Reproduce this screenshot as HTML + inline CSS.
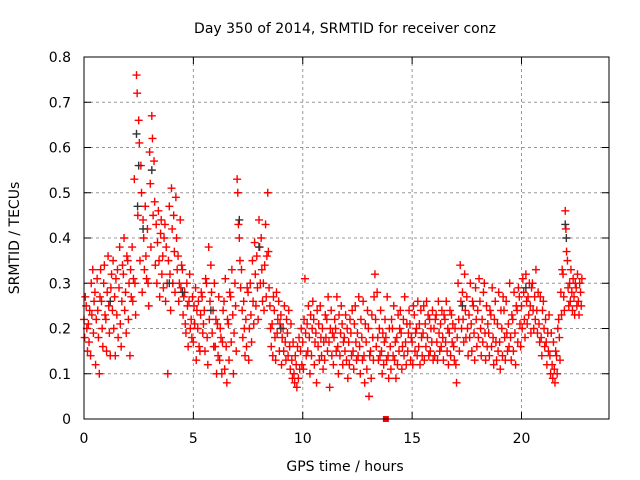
<!DOCTYPE html>
<html><head><meta charset="utf-8"><style>
body{margin:0;background:#fff;}
svg{display:block;font-family:"DejaVu Sans","Liberation Sans",sans-serif;}
</style></head><body>
<svg id="chart" width="640" height="480" viewBox="0 0 640 480">
<rect x="0" y="0" width="640" height="480" fill="#fff"/>
<text x="345" y="33" font-size="14" text-anchor="middle">Day 350 of 2014, SRMTID for receiver conz</text>
<text transform="translate(19,238) rotate(-90)" font-size="14" text-anchor="middle">SRMTID / TECUs</text>
<text x="345" y="471" font-size="14" text-anchor="middle">GPS time / hours</text>
<g id="grid"></g>
<g id="ticks"></g>
<g id="marks"></g>
<rect x="84" y="57" width="525" height="362" fill="none" stroke="#000" stroke-width="1"/>
</svg>
<script>
const xTicks=[0,5,10,15,20];
const yTicks=[0,0.1,0.2,0.3,0.4,0.5,0.6,0.7,0.8];
const yTickLabels=["0","0.1","0.2","0.3","0.4","0.5","0.6","0.7","0.8"];
const redHours=[0.0,0.1,0.2,0.3,0.4,0.5,0.6,0.7,0.8,0.9,1.0,1.1,1.2,1.3,1.4,1.5,1.6,1.7,1.8,1.9,2.0,2.1,2.2,2.3,2.4,2.5,2.6,2.7,2.8,2.9,3.0,3.1,3.2,3.3,3.4,3.5,3.6,3.7,3.8,3.9,4.0,4.1,4.2,4.3,4.4,4.5,4.6,4.7,4.8,4.9,5.0,5.1,5.2,5.3,5.4,5.5,5.6,5.7,5.8,5.9,6.0,6.1,6.2,6.3,6.4,6.5,6.6,6.7,6.8,6.9,7.0,7.1,7.2,7.3,7.4,7.5,7.6,7.7,7.8,7.9,8.0,8.1,8.2,8.3,8.4,8.5,8.6,8.7,8.8,8.9,9.0,9.1,9.2,9.3,9.4,9.5,9.6,9.7,9.8,9.9,10.0,10.1,10.2,10.3,10.4,10.5,10.6,10.7,10.8,10.9,11.0,11.1,11.2,11.3,11.4,11.5,11.6,11.7,11.8,11.9,12.0,12.1,12.2,12.3,12.4,12.5,12.6,12.7,12.8,12.9,13.0,13.1,13.2,13.3,13.4,13.5,13.6,13.7,13.8,13.9,14.0,14.1,14.2,14.3,14.4,14.5,14.6,14.7,14.8,14.9,15.0,15.1,15.2,15.3,15.4,15.5,15.6,15.7,15.8,15.9,16.0,16.1,16.2,16.3,16.4,16.5,16.6,16.7,16.8,16.9,17.0,17.1,17.2,17.3,17.4,17.5,17.6,17.7,17.8,17.9,18.0,18.1,18.2,18.3,18.4,18.5,18.6,18.7,18.8,18.9,19.0,19.1,19.2,19.3,19.4,19.5,19.6,19.7,19.8,19.9,20.0,20.1,20.2,20.3,20.4,20.5,20.6,20.7,20.8,20.9,21.0,21.1,21.2,21.3,21.4,21.5,21.6,21.7,21.8,21.9,22.0,22.1,22.2,22.3,22.4,22.5,22.6,22.7];
const redValues=[[22,18,27],[25,20,15],[21,17,24],[14,30,23],[33,19,26],[28,12,22],[31,24,18],[10,27,33],[26,20,16],[30,34,23],[22,15,28],[36,25,19],[14,29,32],[24,35,20],[27,14,31],[23,33,18],[29,38,21],[16,26,34],[32,40,24],[28,19,36],[35,22,30],[14,33,27],[38,26,31],[53,30,23],[76,72,45],[66,61,35],[56,50,28],[44,40,33],[47,36,31],[42,30,25],[59,52,38],[67,62,45],[57,48,34],[43,30,39],[46,35,27],[41,44,32],[36,29,40],[43,26,38],[30,10,35],[47,32,24],[51,42,30],[45,37,28],[49,40,33],[36,26,30],[44,29,34],[33,23,27],[28,21,19],[30,25,16],[26,32,20],[22,18,27],[17,25,21],[29,13,24],[20,26,16],[15,23,28],[27,19,21],[24,15,31],[30,18,12],[38,22,26],[34,28,19],[24,16,30],[16,22,10],[21,14,27],[13,20,18],[10,17,24],[26,11,31],[16,8,22],[21,13,28],[27,17,33],[23,10,19],[30,25,15],[53,50,43],[40,35,29],[33,24,18],[26,20,14],[22,16,29],[28,13,20],[30,23,17],[35,26,21],[39,32,25],[36,29,22],[44,38,30],[40,33,26],[30,24,34],[43,27,36],[50,37,29],[25,20,16],[21,14,27],[24,18,13],[28,19,22],[26,15,21],[23,12,18],[20,15,25],[17,13,22],[19,14,24],[16,11,21],[13,9,17],[10,8,14],[12,7,16],[9,18,11],[15,20,12],[17,11,22],[31,19,14],[21,15,25],[18,10,23],[14,20,26],[22,12,17],[19,8,24],[16,21,13],[25,18,14],[20,11,17],[13,23,18],[22,15,27],[17,7,20],[24,14,19],[12,18,22],[20,15,27],[16,10,23],[14,19,25],[21,12,17],[18,15,23],[13,20,9],[17,12,22],[19,14,24],[15,11,21],[25,17,13],[19,14,27],[16,10,22],[18,13,26],[14,8,21],[17,11,24],[20,5,14],[15,9,23],[18,13,27],[32,22,16],[28,18,13],[20,14,24],[15,10,19],[12,17,22],[18,13,27],[14,9,20],[16,11,22],[20,14,25],[13,17,9],[18,12,23],[15,20,24],[19,11,16],[22,14,27],[17,12,21],[15,19,24],[21,13,18],[17,12,25],[23,15,19],[20,14,26],[16,21,12],[24,18,14],[19,25,13],[21,16,26],[18,23,14],[22,15,20],[17,24,13],[20,14,22],[23,17,13],[26,19,15],[21,16,24],[18,13,23],[22,17,26],[15,20,12],[19,24,14],[23,17,21],[16,13,20],[12,8,18],[30,22,15],[34,26,20],[28,22,17],[32,24,18],[27,20,14],[23,18,30],[21,15,26],[25,19,13],[29,22,16],[24,18,31],[26,20,14],[22,17,28],[30,19,13],[25,16,21],[19,14,24],[23,16,29],[18,12,22],[26,17,13],[21,15,28],[17,11,24],[20,14,27],[24,18,13],[26,19,15],[21,16,30],[18,13,23],[22,15,28],[19,12,25],[24,17,29],[27,21,16],[25,20,31],[28,22,18],[32,26,21],[27,23,30],[25,19,29],[30,24,20],[27,22,33],[24,19,28],[21,17,27],[18,14,24],[26,20,16],[22,17,12],[19,15,23],[14,10,19],[12,9,17],[11,8,15],[14,10,20],[22,18,13],[28,23,33],[32,27,24],[46,42,37],[35,29,25],[30,26,33],[28,24,31],[27,23,30],[29,25,32],[26,23,30],[28,25,31]];
const blackHours=[2.4,2.45,2.5,2.7,3.1,3.9,4.5,5.8,7.1,8.0,9.0,22.0,22.05,1.2,17.3,20.2];
const blackValues=[0.63,0.47,0.56,0.42,0.55,0.30,0.28,0.24,0.44,0.38,0.20,0.43,0.40,0.26,0.25,0.29];
const outlierHours=[13.8];
const outlierValues=[0];

const X0=84,X1=609,Y0=419,Y1=57,XMAX=24,YMAX=0.8;
function xs(h){return X0+(X1-X0)*h/XMAX;}
function ys(v){return Y0-(Y0-Y1)*v/YMAX;}
const NS="http://www.w3.org/2000/svg";
const grid=document.getElementById('grid'),ticks=document.getElementById('ticks'),marks=document.getElementById('marks');
function line(g,x1,y1,x2,y2,attrs){const l=document.createElementNS(NS,'line');l.setAttribute('x1',x1);l.setAttribute('y1',y1);l.setAttribute('x2',x2);l.setAttribute('y2',y2);for(const k in attrs)l.setAttribute(k,attrs[k]);g.appendChild(l);return l;}
xTicks.forEach(t=>{const x=xs(t);
 if(t>0){const gl=line(grid,x,Y1,x,Y0,{stroke:'#999','stroke-dasharray':'3,3'});
 
 }
 line(ticks,x,Y0,x,Y0-7,{stroke:'#000'});line(ticks,x,Y1,x,Y1+7,{stroke:'#000'});
 const tx=document.createElementNS(NS,'text');tx.setAttribute('x',x);tx.setAttribute('y',Y0+24);tx.setAttribute('font-size','14');tx.setAttribute('text-anchor','middle');tx.textContent=String(t);
 
 
 ticks.appendChild(tx);});
yTicks.forEach((t,i)=>{const y=ys(t);
 if(t>0&&t<YMAX){const gl=line(grid,X0,y,X1,y,{stroke:'#999','stroke-dasharray':'3,3'});
 
 }
 line(ticks,X0,y,X0+7,y,{stroke:'#000'});line(ticks,X1,y,X1-7,y,{stroke:'#000'});
 const tx=document.createElementNS(NS,'text');tx.setAttribute('x',X0-13);tx.setAttribute('y',y+5);tx.setAttribute('font-size','14');tx.setAttribute('text-anchor','end');tx.textContent=yTickLabels[i];
 
 
 ticks.appendChild(tx);});
function cross(h,v,color,name){const x=xs(h),y=ys(v);const p=document.createElementNS(NS,'path');
 p.setAttribute('d','M'+(x-4)+' '+y+'h8M'+x+' '+(y-4)+'v8');p.setAttribute('stroke',color);p.setAttribute('stroke-width','1.4');p.setAttribute('fill','none');
 
 
 marks.appendChild(p);}
redHours.forEach((h,i)=>{redValues[i].forEach((v,j)=>{cross(h+j*0.03,v/100,'#ff0000','red-point');});});
blackHours.forEach((h,i)=>{cross(h,blackValues[i],'#333','black-point');});
outlierHours.forEach((h,i)=>{const r=document.createElementNS(NS,'rect');r.setAttribute('x',xs(h)-3);r.setAttribute('y',ys(outlierValues[i])-3);r.setAttribute('width',6);r.setAttribute('height',6);r.setAttribute('fill','#ff0000');
 
 
 marks.appendChild(r);});
</script>
</body></html>
